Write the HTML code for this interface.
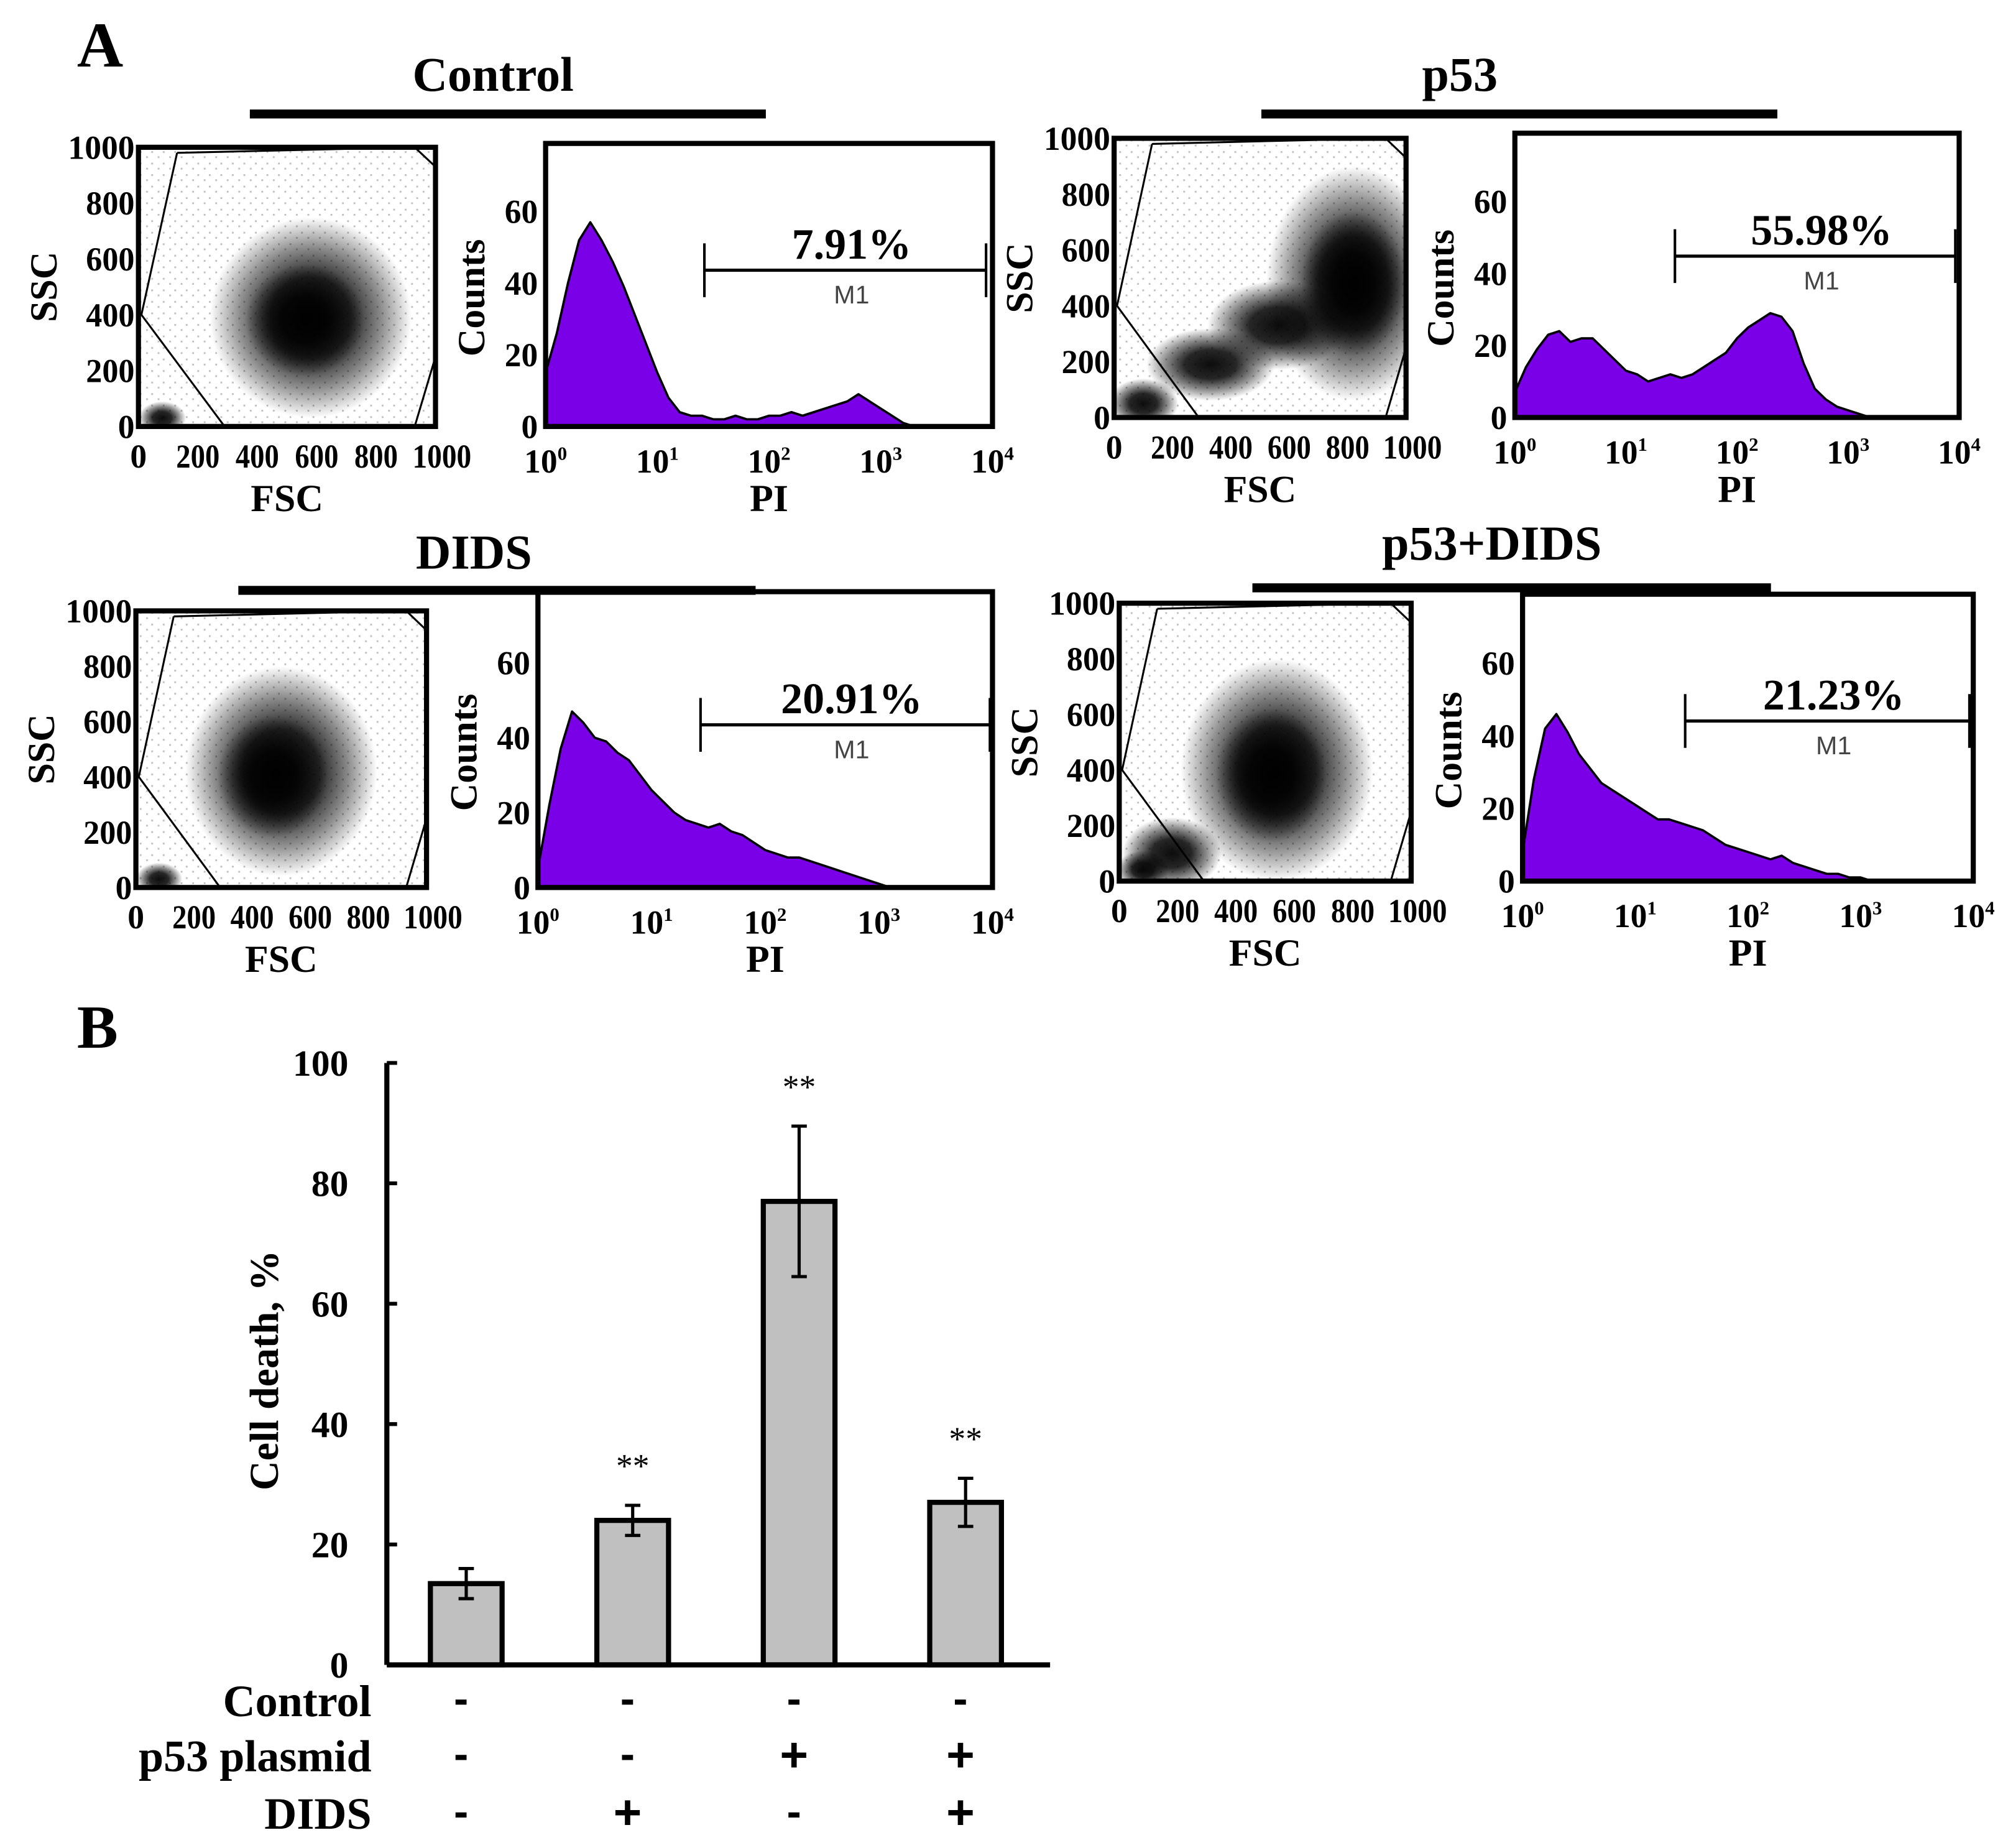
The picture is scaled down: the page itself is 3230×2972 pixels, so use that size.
<!DOCTYPE html>
<html><head><meta charset="utf-8">
<style>
html,body{margin:0;padding:0;background:#fff}
svg{display:block}
text{font-family:"Liberation Serif",serif;font-weight:bold;fill:#000}
</style></head>
<body>
<svg id="fig" xmlns="http://www.w3.org/2000/svg" width="3230" height="2972" viewBox="0 0 1568 1443">
<defs>
<radialGradient id="cl" cx="50%" cy="50%" r="50%">
<stop offset="0" stop-color="#000" stop-opacity="0.95"/>
<stop offset="0.4" stop-color="#000" stop-opacity="0.85"/>
<stop offset="0.7" stop-color="#000" stop-opacity="0.45"/>
<stop offset="1" stop-color="#000" stop-opacity="0"/>
</radialGradient>
<pattern id="dots" width="9" height="9" patternUnits="userSpaceOnUse">
<rect x="1" y="1" width="1.4" height="1.4" fill="#000"/><rect x="6" y="5" width="1.4" height="1.4" fill="#000"/>
</pattern>
</defs>
<g id="root"></g>
</svg>
<script>
// ---------- histogram data (counts per PI bin, log10 bins from 0.0 to 4.0 step 0.1) ----------
const histBins = [0,0.1,0.2,0.3,0.4,0.5,0.6,0.7,0.8,0.9,1.0,1.1,1.2,1.3,1.4,1.5,1.6,1.7,1.8,1.9,2.0,2.1,2.2,2.3,2.4,2.5,2.6,2.7,2.8,2.9,3.0,3.1,3.2,3.3,3.4,3.5,3.6,3.7,3.8,3.9,4.0];
const histControl = [15,26,40,52,57,52,46,39,31,23,15,8,4,3,3,2,2,3,2,2,3,3,4,3,4,5,6,7,9,7,5,3,1,0,0,0,0,0,0,0,0];
const histP53 = [7,14,19,23,24,21,22,22,19,16,13,12,10,11,12,11,12,14,16,18,22,25,27,29,28,24,15,8,5,3,2,1,0,0,0,0,0,0,0,0,0];
const histDids = [5,22,37,47,44,40,39,36,34,30,26,23,20,18,17,16,17,15,14,12,10,9,8,8,7,6,5,4,3,2,1,0,0,0,0,0,0,0,0,0,0];
const histP53Dids = [8,28,42,46,41,35,31,27,25,23,21,19,17,17,16,15,14,12,10,9,8,7,6,7,5,4,3,2,2,1,1,0,0,0,0,0,0,0,0,0,0];
const gatePercents = ["7.91%","55.98%","20.91%","21.23%"];
const panelTitles = ["Control","p53","DIDS","p53+DIDS"];
// ---------- bar chart data ----------
const barCategories = ["Control","DIDS","p53","p53+DIDS"];
const barValues = [13.5,24,77,27];
const barErrors = [2.5,2.5,12.5,4];
const barSignif = ["","**","**","**"];
const yTicks = [0,20,40,60,80,100];
const rowLabels = ["Control","p53 plasmid","DIDS"];
const rowSymbols = [["-","-","-","-"],["-","-","+","+"],["-","+","-","+"]];

const NS="http://www.w3.org/2000/svg";
const root=document.getElementById('root');
function mk(tag,attrs,parent,txt){const e=document.createElementNS(NS,tag);for(const k in attrs)e.setAttribute(k,attrs[k]);if(txt!==undefined)e.textContent=txt;(parent||root).appendChild(e);return e;}

const panels=[
 {title:panelTitles[0],tx:385,ty:71,line:[195,598,89],sc:[108,115,340,333],hi:[426,112,775,333],gate:[550,770,211],hist:histControl,pct:gatePercents[0],cl:[[580,390,340,360],[560,380,200,200],[80,30,80,60]]},
 {title:panelTitles[1],tx:1140,ty:71,line:[985,1388,89],sc:[870,108,1098,326],hi:[1183,104,1530,326],gate:[1308,1527,200],hist:histP53,pct:gatePercents[1],cl:[[820,480,300,420],[820,480,180,260],[560,330,240,160],[330,190,220,130],[100,50,120,90]]},
 {title:panelTitles[2],tx:370,ty:444,line:[186,590,461],sc:[106,477,333,693],hi:[420,462,775,693],gate:[547,773,566],hist:histDids,pct:gatePercents[2],cl:[[500,420,330,380],[470,400,190,220],[80,30,80,60]]},
 {title:panelTitles[3],tx:1165,ty:437,line:[978,1383,459],sc:[874,471,1102,688],hi:[1189,464,1541,688],gate:[1316,1538,563],hist:histP53Dids,pct:gatePercents[3],cl:[[540,400,330,400],[520,380,190,240],[180,100,170,130],[80,40,90,70]]}
];

mk('text',{x:60,y:52,'font-size':50,},root,'A');
mk('text',{x:60,y:818,'font-size':48,},root,'B');

panels.forEach((p,pi)=>{
  const g=mk('g',{});
  mk('text',{x:p.tx,y:p.ty,'font-size':38,'text-anchor':'middle',},g,p.title);
  mk('line',{x1:p.line[0],x2:p.line[1],y1:p.line[2],y2:p.line[2],stroke:'#000','stroke-width':7,},g);
  const [l,t,r,b]=p.sc; const W=r-l,H=b-t;
  const sx=v=>l+v/1000*W, sy=v=>b-v/1000*H;
  const sg=mk('g',{},g);
  mk('clipPath',{id:'clip'+pi},sg);
  mk('rect',{x:l,y:t,width:W,height:H},document.getElementById('clip'+pi));
  const cg=mk('g',{'clip-path':`url(#clip${pi})`},sg);
  mk('rect',{x:l,y:t,width:W,height:H,fill:'url(#dots)',opacity:0.25,},cg);
  p.cl.forEach(c=>{
    mk('ellipse',{cx:sx(c[0]),cy:sy(c[1]),rx:c[2]/1000*W,ry:c[3]/1000*H,fill:'url(#cl)',},cg);
  });
  const gate=[[0.13,0.02],[0.01,0.6],[0.29,1.0]].map(q=>(l+q[0]*W)+','+(t+q[1]*H)).join(' ');
  mk('polyline',{points:gate,fill:'none',stroke:'#000','stroke-width':1.5,},sg);
  mk('line',{x1:l+0.13*W,y1:t+0.02*H,x2:l+0.93*W,y2:t,stroke:'#000','stroke-width':1.5,},sg);
  mk('line',{x1:l+0.93*W,y1:t,x2:r,y2:t+0.07*H,stroke:'#000','stroke-width':1.5,},sg);
  mk('line',{x1:l+0.93*W,y1:b,x2:r,y2:t+0.75*H,stroke:'#000','stroke-width':1.5,},sg);
  mk('rect',{x:l,y:t,width:W,height:H,fill:'none',stroke:'#000','stroke-width':4,},sg);
  [0,200,400,600,800,1000].forEach(v=>{
    mk('text',{x:l-3,y:sy(v)+9,'font-size':26,'text-anchor':'end',textLength:v>=1000?52:(v>0?38:13),lengthAdjust:'spacingAndGlyphs',},sg,v);
    mk('text',{x:sx(v)+(v>=1000?5:0),y:b+32,'font-size':26,'text-anchor':'middle',textLength:v>=1000?46:(v>0?34:13),lengthAdjust:'spacingAndGlyphs',},sg,v);
  });
  mk('text',{x:0,y:0,'font-size':30,'text-anchor':'middle',transform:`translate(${l-64},${(t+b)/2}) rotate(-90)`,},sg,'SSC');
  mk('text',{x:(l+r)/2,y:b+66,'font-size':30,'text-anchor':'middle',},sg,'FSC');
  const [hl,ht,hr,hb]=p.hi; const HW=hr-hl,HH=hb-ht;
  const hx=v=>hl+v/4*HW, hy=v=>hb-v/79*HH;
  const hg=mk('g',{},g);
  let d=`M${hx(histBins[0])},${hb}`;
  histBins.forEach((bv,i)=>{d+=` L${hx(bv)},${hy(p.hist[i])}`;});
  d+=` L${hx(histBins[histBins.length-1])},${hb} Z`;
  mk('path',{d,fill:'#7a00e8',stroke:'#000','stroke-width':1.8,'stroke-linejoin':'round',},hg);
  mk('rect',{x:hl,y:ht,width:HW,height:HH,fill:'none',stroke:'#000','stroke-width':4,},hg);
  [0,20,40,60].forEach(v=>{
    mk('text',{x:hl-6,y:hy(v)+9,'font-size':26,'text-anchor':'end',},hg,v);
  });
  [0,1,2,3,4].forEach(v=>{
    const tx=mk('text',{x:hx(v),y:hb+36,'font-size':26,'text-anchor':'middle',},hg,'10');
    mk('tspan',{'font-size':15,dy:-10},tx,String(v));
  });
  mk('text',{x:0,y:0,'font-size':30,'text-anchor':'middle',transform:`translate(${hl-48},${(ht+hb)/2+10}) rotate(-90)`,},hg,'Counts');
  mk('text',{x:(hl+hr)/2,y:hb+66,'font-size':30,'text-anchor':'middle',},hg,'PI');
  const [g1,g2,gy]=p.gate;
  const mg=mk('g',{},hg);
  mk('line',{x1:g1,x2:g2,y1:gy,y2:gy,stroke:'#000','stroke-width':2.5},mg);
  mk('line',{x1:g1,x2:g1,y1:gy-21,y2:gy+21,stroke:'#000','stroke-width':2},mg);
  mk('line',{x1:g2,x2:g2,y1:gy-21,y2:gy+21,stroke:'#000','stroke-width':2},mg);
  mk('text',{x:(g1+g2)/2+5,y:gy-9,'font-size':34,'text-anchor':'middle',},hg,p.pct);
  mk('text',{x:(g1+g2)/2+5,y:gy+26,'font-size':20,'text-anchor':'middle',style:'font-family:"Liberation Sans",sans-serif;font-weight:normal;fill:#444',},hg,'M1');
});

// ---------- bar chart ----------
const bg=mk('g',{});
const ax0=302, axTop=830, axBot=1300, axRight=820;
const by=v=>axBot-v/100*(axBot-axTop);
const bx=i=>364+i*130;
yTicks.forEach(v=>{
  mk('line',{x1:ax0,x2:ax0+8,y1:by(v),y2:by(v),stroke:'#000','stroke-width':3},bg);
  mk('text',{x:272,y:by(v)+10,'font-size':29,'text-anchor':'end',},bg,v);
});
mk('text',{x:0,y:0,'font-size':32,'text-anchor':'middle',transform:`translate(217,${(axTop+axBot)/2+5}) rotate(-90)`,},bg,'Cell death, %');
barValues.forEach((v,i)=>{
  const r=mk('rect',{x:bx(i)-28,y:by(v),width:56,height:axBot-by(v),fill:'#c0c0c0',stroke:'#000','stroke-width':4},bg);
  
  
  const e=mk('g',{},bg);
  mk('line',{x1:bx(i),x2:bx(i),y1:by(v+barErrors[i]),y2:by(v-barErrors[i]),stroke:'#000','stroke-width':2.5},e);
  mk('line',{x1:bx(i)-6,x2:bx(i)+6,y1:by(v+barErrors[i]),y2:by(v+barErrors[i]),stroke:'#000','stroke-width':2.5},e);
  mk('line',{x1:bx(i)-6,x2:bx(i)+6,y1:by(v-barErrors[i]),y2:by(v-barErrors[i]),stroke:'#000','stroke-width':2.5},e);
  if(barSignif[i]) mk('text',{x:bx(i),y:by(v+barErrors[i])-22,'font-size':26,'text-anchor':'middle',style:'font-weight:normal',},bg,barSignif[i]);
});
mk('line',{x1:ax0,x2:ax0,y1:axTop,y2:axBot,stroke:'#000','stroke-width':4,},bg);
mk('line',{x1:ax0,x2:axRight,y1:axBot,y2:axBot,stroke:'#000','stroke-width':4,},bg);
const rowY=[1340,1383,1428];
rowLabels.forEach((lab,ri)=>{
  mk('text',{x:290,y:rowY[ri],'font-size':35,'text-anchor':'end',},bg,lab);
  rowSymbols[ri].forEach((s,i)=>{
    mk('text',{x:bx(i)-4,y:rowY[ri]+(s==='+'?0:-2),'font-size':s==='+'?38:34,'text-anchor':'middle',style:'font-family:"Liberation Sans",sans-serif;font-weight:bold',},bg,s);
  });
});
</script>
</body></html>
